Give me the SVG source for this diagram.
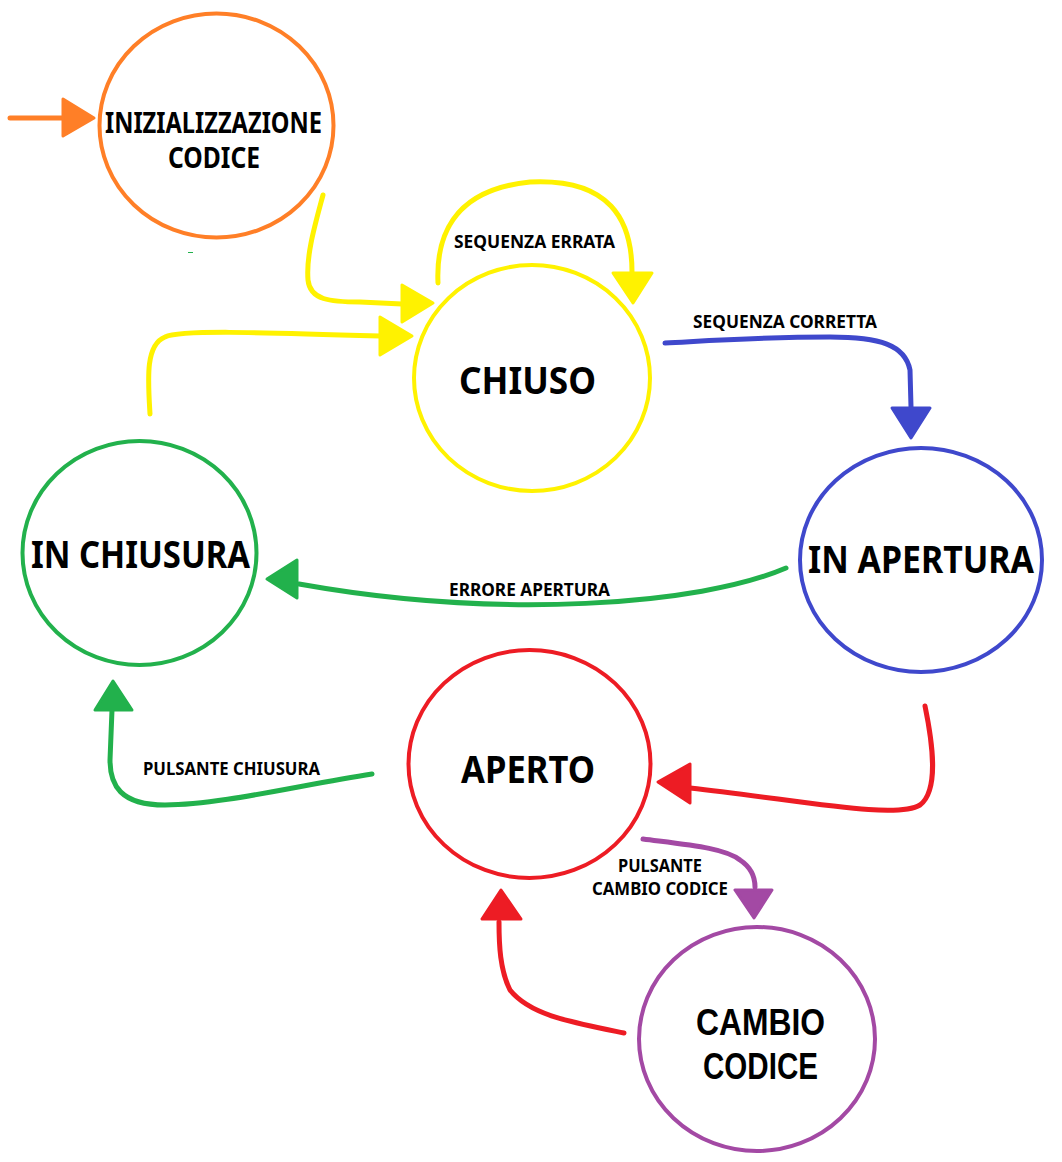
<svg xmlns="http://www.w3.org/2000/svg" width="1062" height="1162" viewBox="0 0 1062 1162">
<style>
.st{fill:none;stroke-width:4}
.big{font-family:"Noto Sans","Open Sans",sans-serif;font-weight:bold;font-size:38px;fill:#000}
.big2{font-family:"Liberation Sans",Arial,sans-serif;font-weight:bold;font-size:36px;fill:#000}
.mid{font-family:"Noto Sans","Open Sans",sans-serif;font-weight:bold;font-size:28px;fill:#000}
.lbl{font-family:"Noto Sans","Open Sans",sans-serif;font-weight:bold;font-size:18px;fill:#000}
.ln{fill:none;stroke-width:5;stroke-linecap:round;stroke-linejoin:round}
.ah{stroke-width:3;stroke-linejoin:round}
.or{stroke:#FF7F27}.ye{stroke:#FFF200}.bl{stroke:#3F48CC}.gr{stroke:#22B14C}.re{stroke:#ED1C24}.pu{stroke:#A349A4}
.for{fill:#FF7F27}.fye{fill:#FFF200}.fbl{fill:#3F48CC}.fgr{fill:#22B14C}.fre{fill:#ED1C24}.fpu{fill:#A349A4}
</style>
<rect width="1062" height="1162" fill="#fff"/>
<g id="connectors">
  <path class="ln or" d="M10,118 L62,118"/>
  <polygon class="ah or for" points="63,99 63,136 94,118"/>
  <path class="ln ye" d="M323,195 C315,225 306,255 308,280 C310,300 330,302 360,302 L402,304"/>
  <polygon class="ah ye fye" points="402,285 402,322 433,303"/>
  <path class="ln ye" d="M438,283 C436,240 450,190 530,182 C610,178 632,220 632,272"/>
  <polygon class="ah ye fye" points="613,273 652,273 633,303"/>
  <path class="ln ye" d="M150,414 C148,380 145,345 165,337 C180,330 250,332 380,336"/>
  <polygon class="ah ye fye" points="380,317 380,355 412,336"/>
  <path class="ln bl" d="M665,343 C720,340 760,337 830,337 C880,337 905,345 910,370 L911,407"/>
  <polygon class="ah bl fbl" points="892,408 930,408 911,438"/>
  <path class="ln gr" d="M786,568 C700,605 500,620 299,584"/>
  <polygon class="ah gr fgr" points="297,560 297,598 267,579"/>
  <path class="ln gr" d="M372,774 C300,785 220,805 165,805 C120,805 110,785 110,760 L112,710"/>
  <polygon class="ah gr fgr" points="95,710 132,710 113,681"/>
  <path class="ln re" d="M925,706 C932,740 940,790 920,805 C895,820 800,800 690,788"/>
  <polygon class="ah re fre" points="690,764 690,803 658,782"/>
  <path class="ln pu" d="M643,839 C690,845 725,848 740,860 C752,868 755,878 755,887"/>
  <polygon class="ah pu fpu" points="735,890 772,890 754,918"/>
  <path class="ln re" d="M624,1033 C570,1022 530,1015 510,990 C500,970 499,945 499,922"/>
  <polygon class="ah re fre" points="482,919 521,919 501,890"/>
  <line x1="188" y1="252.5" x2="193" y2="252.5" stroke="#22B14C" stroke-width="1"/>
</g>
<g id="node-inizializzazione">
  <ellipse class="st or" cx="216.5" cy="125.5" rx="117" ry="112"/>
  <text class="mid" x="105" y="133" textLength="217" lengthAdjust="spacingAndGlyphs">INIZIALIZZAZIONE</text>
  <text class="mid" x="168" y="168" textLength="92" lengthAdjust="spacingAndGlyphs">CODICE</text>
</g>
<g id="node-chiuso">
  <ellipse class="st ye" cx="532" cy="378" rx="118" ry="113"/>
  <text class="big" x="459" y="394" textLength="137" lengthAdjust="spacingAndGlyphs">CHIUSO</text>
</g>
<g id="node-in-apertura">
  <ellipse class="st bl" cx="921" cy="560" rx="121" ry="112"/>
  <text class="big" x="808" y="573" textLength="226" lengthAdjust="spacingAndGlyphs">IN APERTURA</text>
</g>
<g id="node-in-chiusura">
  <ellipse class="st gr" cx="139.5" cy="553" rx="117" ry="112"/>
  <text class="big" x="31" y="568" textLength="219" lengthAdjust="spacingAndGlyphs">IN CHIUSURA</text>
</g>
<g id="node-aperto">
  <ellipse class="st re" cx="529.5" cy="764" rx="121" ry="114"/>
  <text class="big" x="461" y="783" textLength="134" lengthAdjust="spacingAndGlyphs">APERTO</text>
</g>
<g id="node-cambio-codice">
  <ellipse class="st pu" cx="757" cy="1039" rx="118" ry="112"/>
  <text class="big2" x="696" y="1035" textLength="129" lengthAdjust="spacingAndGlyphs">CAMBIO</text>
  <text class="big2" x="703" y="1079" textLength="115" lengthAdjust="spacingAndGlyphs">CODICE</text>
</g>
<g id="labels">
  <text class="lbl" x="454" y="248" textLength="161" lengthAdjust="spacingAndGlyphs">SEQUENZA ERRATA</text>
  <text class="lbl" x="693" y="328" textLength="184" lengthAdjust="spacingAndGlyphs">SEQUENZA CORRETTA</text>
  <text class="lbl" x="449" y="596" textLength="161" lengthAdjust="spacingAndGlyphs">ERRORE APERTURA</text>
  <text class="lbl" x="143" y="775" textLength="177" lengthAdjust="spacingAndGlyphs">PULSANTE CHIUSURA</text>
  <text class="lbl" x="618" y="872" textLength="84" lengthAdjust="spacingAndGlyphs">PULSANTE</text>
  <text class="lbl" x="592" y="895" textLength="136" lengthAdjust="spacingAndGlyphs">CAMBIO CODICE</text>
</g>
</svg>
